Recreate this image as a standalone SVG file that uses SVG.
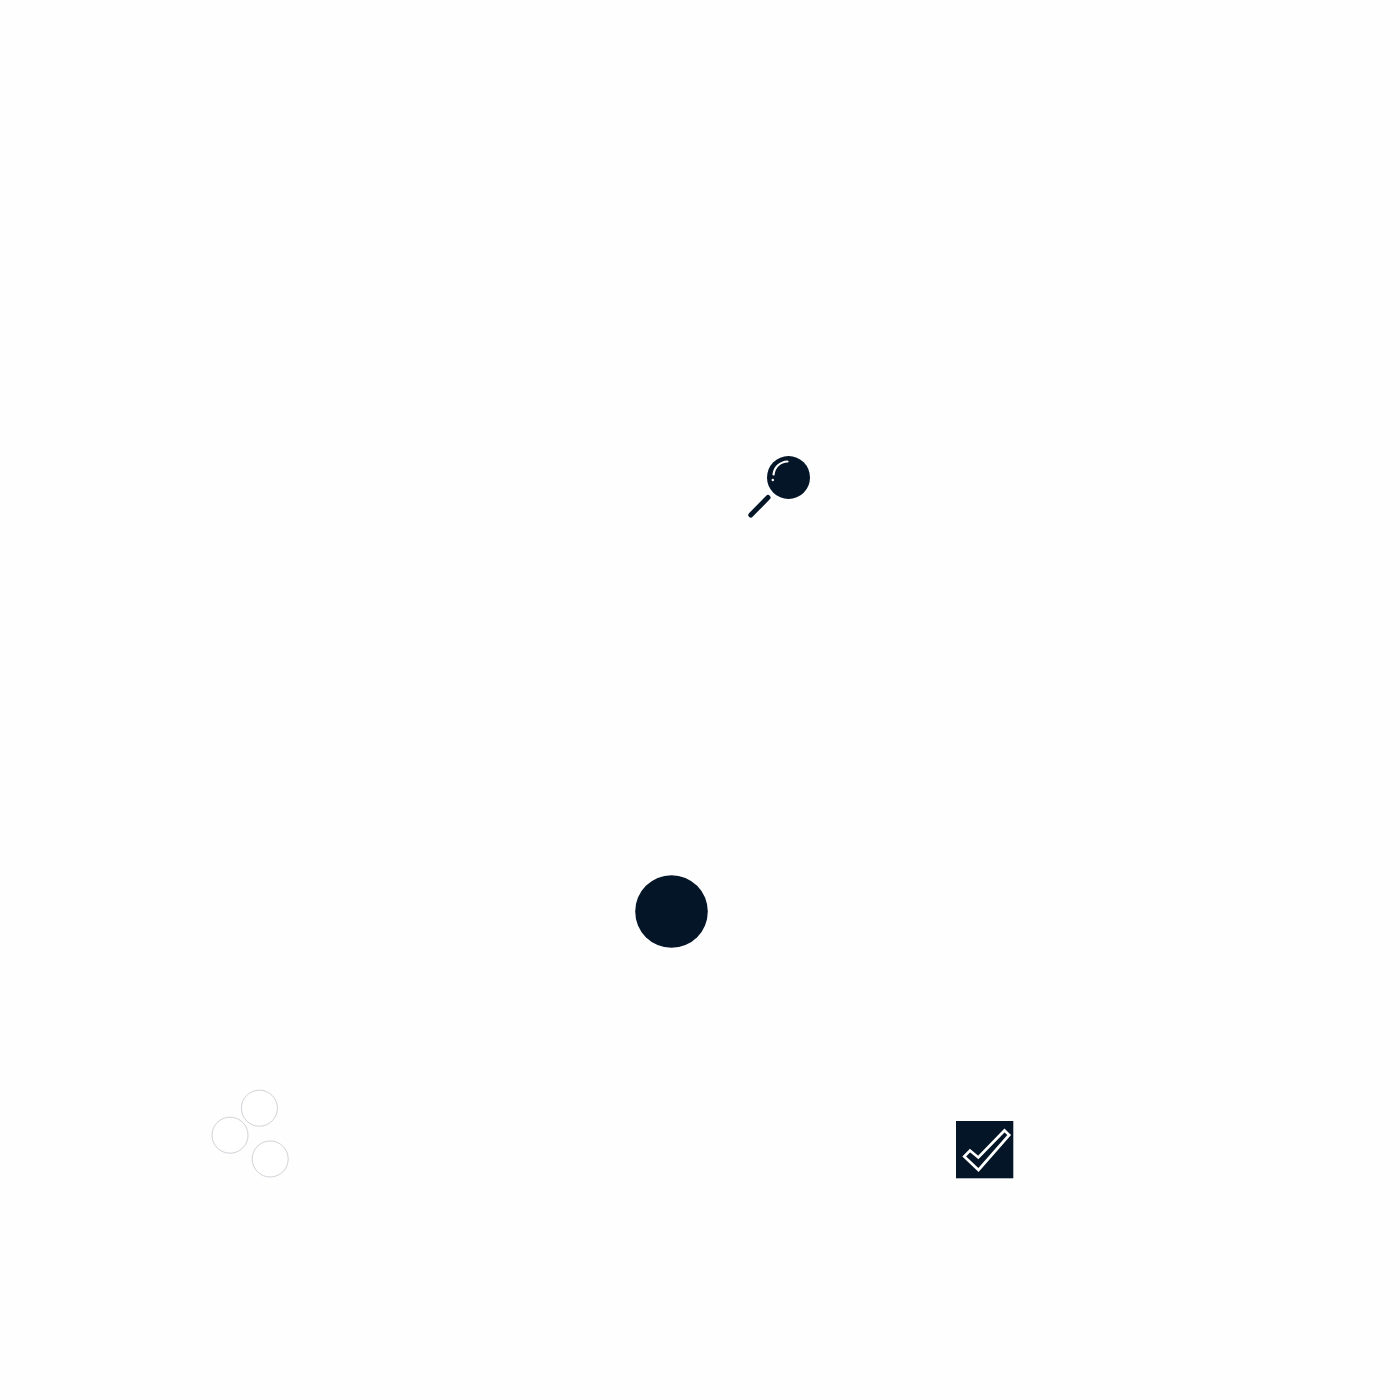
<svg xmlns="http://www.w3.org/2000/svg" width="1400" height="1400" viewBox="0 0 1400 1400">
  <style>
    .dark { fill: #031527; }
    .ring { fill: #ffffff; stroke: #d2d2d8; stroke-width: 1; }
    .line { fill: none; stroke: #ffffff; stroke-linejoin: miter; }
  </style>
  <rect width="1400" height="1400" fill="#fefefe"/>
  <g id="magnifier">
    <circle class="dark" cx="788.500" cy="477.500" r="21.500"/>
    <path d="M750.800 515L768 497.500" fill="none" stroke="#031527" stroke-width="5" stroke-linecap="round"/>
    <path class="line" d="M787.500 461.500C780 461.800 774.500 467 773.500 474.500" stroke-width="2.200" stroke-linecap="round"/>
    <circle cx="772.800" cy="480" r="1.200" fill="#ffffff"/>
  </g>
  <g id="disc">
    <circle class="dark" cx="671.500" cy="911.500" r="36.300"/>
  </g>
  <g id="rings">
    <circle class="ring" cx="259.400" cy="1108.200" r="18"/>
    <circle class="ring" cx="230" cy="1135.200" r="18"/>
    <circle class="ring" cx="270.200" cy="1159" r="18"/>
  </g>
  <g id="check">
    <rect class="dark" x="956" y="1121" width="57.300" height="57.300"/>
    <path class="line" d="M1004.500 1130.500L1009.200 1135L978.500 1170L964.200 1156.500L970 1150.500L978.300 1157.500Z" stroke-width="2.700"/>
  </g>
  <g id="connectors"></g>
</svg>
